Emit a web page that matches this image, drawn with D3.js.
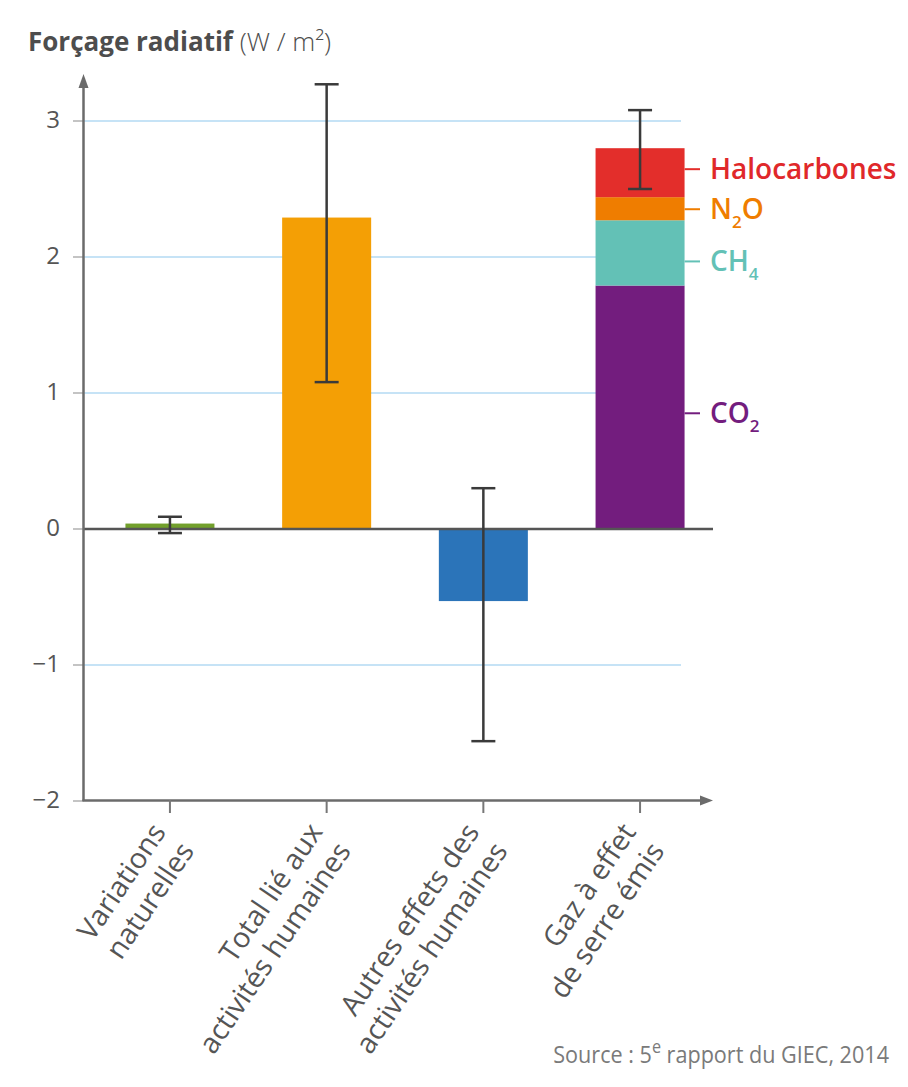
<!DOCTYPE html>
<html><head><meta charset="utf-8">
<script src="https://cdn.jsdelivr.net/npm/d3@7"></script>
<style>
body{margin:0;background:#fff}
svg{display:block}
text{font-family:"Open Sans","Noto Sans",sans-serif}
</style>
</head><body>
<svg id="chart" width="908" height="1087"></svg>
<script>
// ---------- data ----------
const categories = ["Variations naturelles", "Total lié aux activités humaines", "Autres effets des activités humaines", "Gaz à effet de serre émis"];
const categoryLines = [["Variations", "naturelles"], ["Total lié aux", "activités humaines"], ["Autres effets des", "activités humaines"], ["Gaz à effet", "de serre émis"]];
const barValues = [0.04, 2.29, -0.53, null];
const barColors = ["#72a02c", "#f49f05", "#2b74b9", null];
const errLow = [-0.03, 1.08, -1.56, 2.50];
const errHigh = [0.09, 3.27, 0.30, 3.08];
const gasNames = ["CO2", "CH4", "N2O", "Halocarbones"];
const gasValues = [1.79, 0.48, 0.17, 0.36];
const gasColors = ["#731d7e", "#63c1b6", "#ef7d00", "#e32e2b"];
const gasTextColors = ["#731d7e", "#63c1b6", "#ef7d00", "#e0282a"];
const gasLabelParts = [[["CO", false], ["2", true]], [["CH", false], ["4", true]], [["N", false], ["2", true], ["O", false]], [["Halocarbones", false]]];
const yTicks = [-2, -1, 0, 1, 2, 3];
const titleBold = "Forçage radiatif";
const titleUnit = " (W / m²)";

// ---------- layout ----------
const svg = d3.select("#chart");
const axisLeft = 83.5, axisRight = 713, gridRight = 681;
const y = d3.scaleLinear().domain([-2, 3]).range([801, 121]);
const x = d3.scaleBand().domain(categories).range([93, 717]).paddingInner(0.432).paddingOuter(0.207);
const cx = c => x(c) + x.bandwidth() / 2;
const textGrey = "#555";

// grid lines (behind)
svg.append("g").selectAll("line").data(yTicks.filter(t => t !== 0 && t !== -2)).join("line")
  .attr("x1", axisLeft).attr("x2", gridRight)
  .attr("y1", d => y(d)).attr("y2", d => y(d))
  .attr("stroke", "#c6e3f6").attr("stroke-width", 2);

// y tick marks + labels
const yt = svg.append("g");
yt.selectAll("line").data(yTicks).join("line")
  .attr("x1", 73).attr("x2", axisLeft).attr("y1", d => y(d)).attr("y2", d => y(d))
  .attr("stroke", "#c4c4c4").attr("stroke-width", 2);
yt.selectAll("text").data(yTicks).join("text")
  .attr("x", 60).attr("y", d => y(d) + 7)
  .attr("text-anchor", "end").attr("font-size", 24).attr("font-weight", 400)
  .attr("fill", textGrey)
  .text(d => d < 0 ? "\u2212" + Math.abs(d) : d);

// simple bars
const simple = categories.map((c, i) => ({c, v: barValues[i], col: barColors[i]})).filter(d => d.v !== null);
svg.append("g").selectAll("rect").data(simple).join("rect")
  .attr("x", d => x(d.c)).attr("width", x.bandwidth())
  .attr("y", d => y(Math.max(0, d.v))).attr("height", d => Math.abs(y(d.v) - y(0)))
  .attr("fill", d => d.col);

// stacked bar
const gasRow = {};
gasNames.forEach((g, i) => gasRow[g] = gasValues[i]);
const stacked = d3.stack().keys(gasNames)([gasRow]);
const stackCat = categories[3];
svg.append("g").selectAll("rect").data(stacked).join("rect")
  .attr("x", x(stackCat)).attr("width", x.bandwidth())
  .attr("y", d => y(d[0][1])).attr("height", d => y(d[0][0]) - y(d[0][1]))
  .attr("fill", (d, i) => gasColors[i]);

// gas labels
const labelShift = [6, 8.5, 0.5, -3.5];
const gl = svg.append("g");
const barRight = x(stackCat) + x.bandwidth();
stacked.forEach((s, i) => {
  const ly = (y(s[0][0]) + y(s[0][1])) / 2 + labelShift[i];
  gl.append("line").attr("x1", barRight).attr("x2", 700).attr("y1", ly).attr("y2", ly)
    .attr("stroke", gasColors[i]).attr("stroke-width", 2);
  const t = gl.append("text").attr("x", 710).attr("y", ly + 10)
    .attr("font-size", 28).attr("font-weight", 600).attr("fill", gasTextColors[i]);
  gasLabelParts[i].forEach(([str, sub], k) => {
    const ts = t.append("tspan").text(str);
    if (sub) ts.attr("font-size", 17).attr("dy", 9);
    else if (k > 0 && gasLabelParts[i][k - 1][1]) ts.attr("dy", -9);
  });
});

// zero line
svg.append("line").attr("x1", axisLeft).attr("x2", axisRight).attr("y1", y(0)).attr("y2", y(0))
  .attr("stroke", "#555").attr("stroke-width", 2.5);

// error bars
const eb = svg.append("g").attr("stroke", "#3a3a3a").attr("stroke-width", 2.5);
categories.forEach((c, i) => {
  const xc = cx(c);
  eb.append("line").attr("x1", xc).attr("x2", xc).attr("y1", y(errLow[i])).attr("y2", y(errHigh[i]));
  [errLow[i], errHigh[i]].forEach(v => eb.append("line").attr("x1", xc - 12).attr("x2", xc + 12).attr("y1", y(v)).attr("y2", y(v)));
});

// axes
const axCol = "#6b6b6b";
svg.append("line").attr("x1", axisLeft).attr("x2", axisLeft).attr("y1", 801).attr("y2", 86)
  .attr("stroke", axCol).attr("stroke-width", 2.5);
svg.append("path").attr("d", `M${axisLeft},74 L${axisLeft - 5},88 L${axisLeft + 5},88 Z`).attr("fill", axCol);
svg.append("line").attr("x1", axisLeft - 1).attr("x2", axisRight - 10).attr("y1", 800.5).attr("y2", 800.5)
  .attr("stroke", axCol).attr("stroke-width", 2.5);
svg.append("path").attr("d", `M${axisRight},800.5 L${axisRight - 13},795.5 L${axisRight - 13},805.5 Z`).attr("fill", axCol);

// x ticks + labels
const xt = svg.append("g");
categories.forEach((c, i) => {
  const xc = cx(c);
  xt.append("line").attr("x1", xc).attr("x2", xc).attr("y1", 800).attr("y2", 813)
    .attr("stroke", "#777").attr("stroke-width", 2);
  const g = xt.append("g").attr("transform", `translate(${xc - 3},832) rotate(-56)`);
  categoryLines[i].forEach((line, k) => {
    g.append("text").attr("x", 0).attr("y", k * 34).attr("text-anchor", "end")
      .attr("font-size", 28.5).attr("font-weight", 400).attr("fill", textGrey).text(line);
  });
});

// title
const title = svg.append("text").attr("x", 28).attr("y", 51).attr("font-size", 26).attr("fill", "#4d4d4d");
title.append("tspan").attr("font-weight", 700).text(titleBold);
title.append("tspan").attr("font-weight", 300).text(titleUnit);

// source
const src = svg.append("text").attr("transform", "translate(889,1063) scale(0.9,1)")
  .attr("text-anchor", "end").attr("font-size", 24).attr("font-weight", 400).attr("fill", "#7a7a7a");
src.append("tspan").text("Source : 5");
src.append("tspan").attr("dy", -10).attr("font-size", 18).text("e");
src.append("tspan").attr("dy", 10).text(" rapport du GIEC, 2014");
</script>
</body></html>
